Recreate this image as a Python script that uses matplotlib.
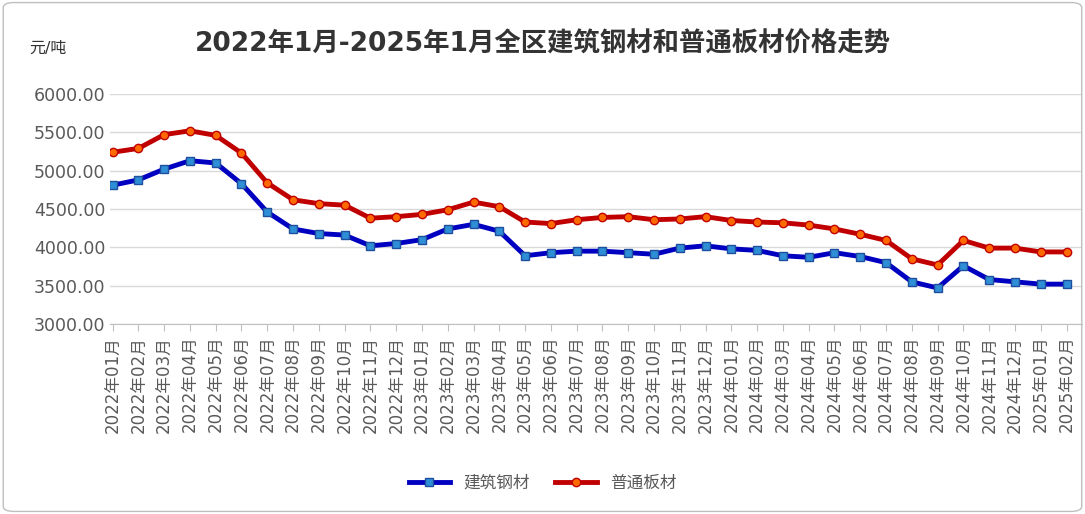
import matplotlib.pyplot as plt
from matplotlib.patches import FancyBboxPatch

plt.rcParams['font.family'] = ['DejaVu Sans', 'Noto Sans CJK SC']

months = [f"{y}年{m:02d}月" for y, m in
          [(2022, i) for i in range(1, 13)] + [(2023, i) for i in range(1, 13)] +
          [(2024, i) for i in range(1, 13)] + [(2025, 1), (2025, 2)]]
rebar = [4810, 4880, 5020, 5130, 5100, 4830, 4460, 4240, 4180, 4160, 4020, 4050,
         4100, 4240, 4300, 4210, 3890, 3930, 3950, 3950, 3930, 3910, 3990, 4020,
         3980, 3960, 3890, 3870, 3930, 3880, 3800, 3550, 3470, 3760, 3580, 3550,
         3520, 3520]
plate = [5240, 5290, 5470, 5520, 5460, 5230, 4840, 4620, 4570, 4550, 4380, 4400,
         4430, 4490, 4590, 4530, 4330, 4310, 4360, 4390, 4400, 4360, 4370, 4400,
         4350, 4330, 4320, 4290, 4240, 4170, 4090, 3850, 3770, 4090, 3990, 3990,
         3940, 3940]
yticks = [3000, 3500, 4000, 4500, 5000, 5500, 6000]

fig = plt.figure(figsize=(10.85, 5.14), dpi=100)
fig.patches.append(FancyBboxPatch((0.003, 0.005), 0.994, 0.99, boxstyle="round,pad=0,rounding_size=0.01",
                                  transform=fig.transFigure, fill=False, ec='#bfbfbf', lw=1))
ax = fig.add_axes([110/1085, 1-324/514, 972/1085, 230/514])
x = list(range(len(months)))
ax.plot(x, rebar, color='#0000c0', lw=3.5, marker='s', ms=6, mfc='#2e8fd6', mec='#1f4e9e', mew=1, label='建筑钢材', zorder=3)
ax.plot(x, plate, color='#c00000', lw=3.5, marker='o', ms=6, mfc='#ff6a00', mec='#c00000', mew=1, label='普通板材', zorder=3)
ax.set_ylim(3000, 6000)
ax.set_yticks(yticks)
ax.set_yticklabels([f"{v:.2f}" for v in yticks], fontsize=12.5, color='#595959')
ax.set_xlim(-0.1, 37.6)
ax.set_xticks(x)
ax.set_xticklabels(months, rotation=90, fontsize=12, color='#595959')
ax.grid(axis='y', color='#d9d9d9', lw=1)
for s in ['top', 'right', 'left']:
    ax.spines[s].set_visible(False)
ax.spines['bottom'].set_color('#bfbfbf')
ax.tick_params(axis='y', length=0)
ax.tick_params(axis='x', color='#bfbfbf', length=5)
fig.text(0.5, 1-45/514, '2022年1月-2025年1月全区建筑钢材和普通板材价格走势', ha='center', va='center',
         fontsize=19, fontweight='bold', color='#333333')
fig.text(48/1085, 1-48/514, '元/吨', ha='center', va='center', fontsize=11.5, color='#333333')
fig.legend(loc='center', bbox_to_anchor=(0.5, 1-483/514), ncol=2, frameon=False, fontsize=12,
           handlelength=2.5, columnspacing=1.5, labelcolor='#595959')
fig.savefig('out.png', dpi=100)
